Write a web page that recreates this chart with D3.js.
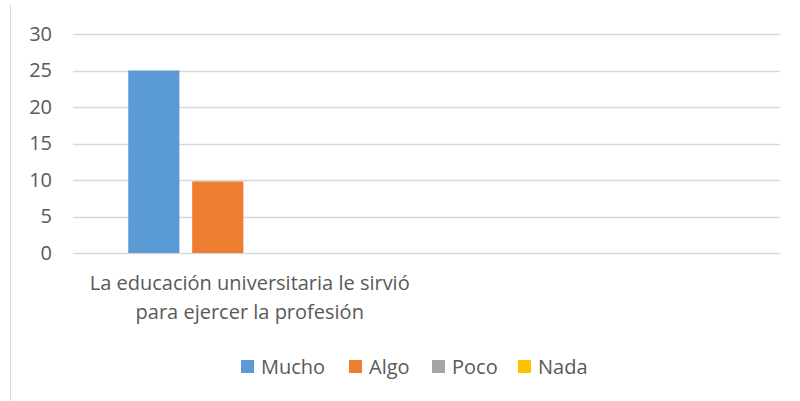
<!DOCTYPE html>
<html>
<head>
<meta charset="utf-8">
<script src="https://cdn.jsdelivr.net/npm/d3@7"></script>
<style>
  body { margin: 0; background: #fff; }
  text { font-family: "Open Sans", sans-serif; fill: #595959; }
</style>
</head>
<body>
<div id="chart"></div>
<script>
// data
var categories = ["La educación universitaria le sirvió para ejercer la profesión", ""];
var series = ["Mucho", "Algo", "Poco", "Nada"];
var colors = ["#5B9BD5", "#ED7D31", "#A5A5A5", "#FFC000"];
var values = {
  "Mucho": [25, null],
  "Algo": [9.8, null],
  "Poco": [0, null],
  "Nada": [0, null]
};
var yTicks = [0, 5, 10, 15, 20, 25, 30];
var catLines = [["La educación universitaria le sirvió", "para ejercer la profesión"], []];

var width = 800, height = 401;
var fontSize = 20;

var svg = d3.select('#chart')
    .append('svg')
    .attr('width', width)
    .attr('height', height);

// chart area border (only left edge shows)
svg.append('line')
    .attr('x1', 10.5).attr('x2', 10.5)
    .attr('y1', 5).attr('y2', height)
    .attr('stroke', '#d9d9d9')
    .attr('stroke-width', 1);

var plotLeft = 73, plotRight = 780, plotTop = 34, plotBottom = 253;

var y = d3.scaleLinear().domain([0, 30]).range([plotBottom, plotTop]);

var x0 = d3.scaleBand()
    .domain(categories)
    .range([plotLeft, plotRight])
    .paddingInner(0.3126)
    .paddingOuter(0.1563);

var x1 = d3.scaleBand()
    .domain(series)
    .range([0, x0.bandwidth()])
    .paddingInner(0.2);

// gridlines
svg.append('g')
    .selectAll('line')
    .data(yTicks)
    .enter()
    .append('line')
    .attr('x1', plotLeft).attr('x2', plotRight)
    .attr('y1', d => Math.round(y(d)) + 0.5)
    .attr('y2', d => Math.round(y(d)) + 0.5)
    .attr('stroke', '#d9d9d9')
    .attr('stroke-width', 1.3);

// y axis labels
var leftAxis = d3.axisLeft(y).tickValues(yTicks).tickSize(0).tickPadding(0);
var yAxis = svg.append('g')
    .attr('transform', `translate(52,0)`)
    .call(leftAxis);
yAxis.select('.domain').remove();
yAxis.selectAll('text')
    .style('font-size', fontSize + 'px')
    .style('font-family', '"Open Sans", sans-serif')
    .attr('fill', '#595959');

// bars
var groups = svg.append('g')
    .selectAll('g')
    .data(categories)
    .enter()
    .append('g')
    .attr('transform', d => `translate(${x0(d)},0)`);

groups.selectAll('rect')
    .data((c, i) => series.map((s, j) => ({ s: s, v: values[s][i], color: colors[j] })))
    .enter()
    .filter(d => d.v != null && d.v > 0)
    .append('rect')
    .attr('x', d => x1(d.s))
    .attr('width', x1.bandwidth())
    .attr('y', d => y(d.v))
    .attr('height', d => y(0) - y(d.v))
    .attr('fill', d => d.color);

// category labels
categories.forEach(function(c, i) {
  var t = svg.append('text')
      .attr('text-anchor', 'middle')
      .style('font-size', fontSize + 'px')
      .attr('x', x0(c) + x0.bandwidth() / 2)
      .attr('y', 290);
  catLines[i].forEach(function(line, k) {
    t.append('tspan')
      .attr('x', x0(c) + x0.bandwidth() / 2)
      .attr('dy', k === 0 ? 0 : 29)
      .text(line);
  });
});

// legend
var legendX = [241, 349, 432, 518];
var legend = svg.append('g')
    .selectAll('g')
    .data(series)
    .enter()
    .append('g')
    .attr('transform', (d, i) => `translate(${legendX[i]},360)`);

legend.append('rect')
    .attr('width', 13).attr('height', 13)
    .attr('fill', (d, i) => colors[i]);

legend.append('text')
    .attr('x', 20)
    .attr('y', 13.5)
    .style('font-size', fontSize + 'px')
    .text(d => d);
</script>
</body>
</html>
